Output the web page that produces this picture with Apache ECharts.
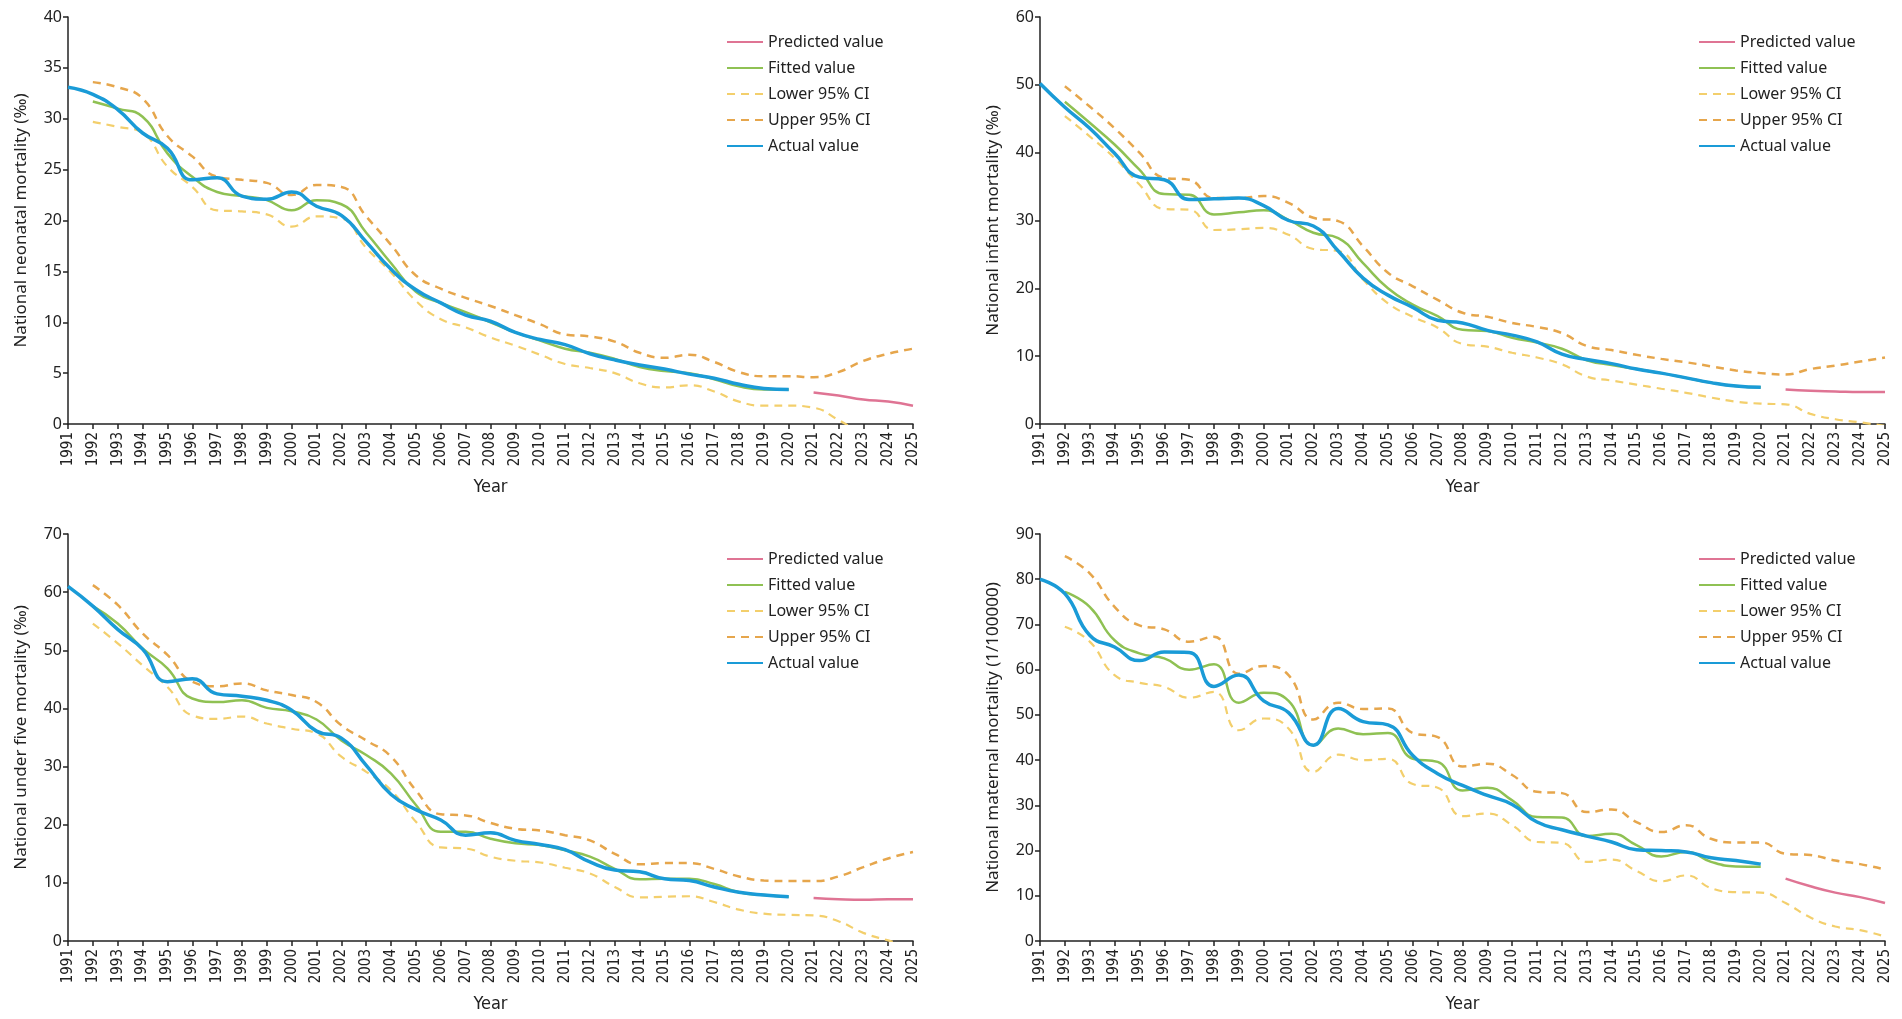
<!DOCTYPE html>
<html>
<head>
<meta charset="utf-8">
<title>National mortality trends</title>
<script src="https://cdn.jsdelivr.net/npm/echarts@6/dist/echarts.min.js"></script>
<style>
	html, body { margin: 0; padding: 0; background: #fff; }
	#main { width: 1902px; height: 1019px; }
</style>
</head>
<body>
<div id="main"></div>
<script>
// x axis categories
var years = ['1991','1992','1993','1994','1995','1996','1997','1998','1999','2000',
	'2001','2002','2003','2004','2005','2006','2007','2008','2009','2010',
	'2011','2012','2013','2014','2015','2016','2017','2018','2019','2020',
	'2021','2022','2023','2024','2025'];

var legendNames = ['Predicted value', 'Fitted value', 'Lower 95% CI', 'Upper 95% CI', 'Actual value'];

// neonatal (‰): actual 1991-2020, fitted 1992-2020, CI 1992-2025, predicted 2021-2025
var neonatalActual = [33.1, 32.4, 30.9, 28.6, 27.1, 24.0, 24.2, 22.4, 22.1, 22.8, 21.4, 20.5, 17.9, 15.2, 13.2, 11.9, 10.7, 10.1, 9.0, 8.3, 7.8, 6.9, 6.3, 5.8, 5.4, 4.9, 4.5, 3.9, 3.5, 3.4];
var neonatalFitted = [31.7, 31.0, 30.2, 26.6, 24.3, 22.8, 22.4, 22.0, 21.0, 22.0, 21.6, 18.8, 15.8, 13.0, 11.9, 11.0, 10.0, 9.0, 8.2, 7.4, 7.0, 6.4, 5.6, 5.2, 5.0, 4.4, 3.7, 3.4, 3.4];
var neonatalLower = [29.7, 29.2, 28.6, 25.3, 23.3, 21.0, 20.9, 20.6, 19.4, 20.4, 20.2, 17.3, 14.9, 12.1, 10.3, 9.5, 8.5, 7.7, 6.8, 5.9, 5.5, 5.0, 4.0, 3.6, 3.8, 3.2, 2.2, 1.8, 1.8, 1.6, 0.4, -1.0, -1.9, -2.6];
var neonatalUpper = [33.6, 33.1, 32.0, 28.3, 26.3, 24.3, 24.0, 23.7, 22.5, 23.5, 23.3, 20.4, 17.6, 14.6, 13.3, 12.4, 11.6, 10.7, 9.8, 8.8, 8.6, 8.1, 7.0, 6.5, 6.8, 6.1, 5.1, 4.7, 4.7, 4.6, 5.1, 6.2, 6.9, 7.4];
var neonatalPredicted = [3.1, 2.8, 2.4, 2.2, 1.8];

// infant (‰)
var infantActual = [50.2, 46.7, 43.6, 39.9, 36.4, 36.0, 33.1, 33.2, 33.3, 32.2, 30.0, 29.2, 25.5, 21.5, 19.0, 17.2, 15.3, 14.9, 13.8, 13.1, 12.1, 10.3, 9.5, 8.9, 8.1, 7.5, 6.8, 6.1, 5.6, 5.4];
var infantFitted = [47.5, 44.4, 41.2, 37.5, 33.9, 33.8, 30.9, 31.2, 31.5, 30.1, 28.2, 27.4, 23.7, 20.0, 17.6, 15.9, 13.9, 13.7, 12.7, 12.0, 11.1, 9.4, 8.7, 8.1, 7.5, 6.8, 6.1, 5.6, 5.4];
var infantLower = [45.4, 42.4, 39.2, 35.3, 31.7, 31.6, 28.6, 28.7, 28.9, 27.9, 25.8, 25.5, 21.3, 17.8, 15.8, 14.2, 11.8, 11.4, 10.5, 9.8, 8.8, 7.0, 6.4, 5.8, 5.2, 4.6, 3.9, 3.3, 3.0, 2.9, 1.5, 0.7, 0.25, -0.3];
var infantUpper = [49.8, 46.8, 43.6, 40.0, 36.3, 36.0, 33.3, 33.3, 33.6, 32.6, 30.4, 29.9, 26.2, 22.3, 20.3, 18.3, 16.4, 15.8, 14.9, 14.3, 13.4, 11.5, 10.9, 10.2, 9.6, 9.1, 8.5, 7.9, 7.5, 7.3, 8.1, 8.6, 9.2, 9.8];
var infantPredicted = [5.1, 4.9, 4.8, 4.7, 4.7];

// under five (‰)
var underFiveActual = [61.0, 57.6, 53.6, 50.2, 44.6, 45.1, 42.5, 42.1, 41.4, 39.7, 36.1, 34.9, 30.2, 25.2, 22.6, 20.8, 18.2, 18.6, 17.3, 16.6, 15.7, 13.6, 12.2, 11.9, 10.7, 10.4, 9.3, 8.4, 7.9, 7.6];
var underFiveFitted = [57.6, 54.6, 50.3, 46.9, 41.7, 41.1, 41.4, 40.1, 39.5, 38.1, 34.5, 32.0, 28.8, 23.4, 18.8, 18.8, 17.6, 16.8, 16.5, 15.6, 14.5, 12.4, 10.6, 10.7, 10.7, 9.8, 8.4, 7.9, 7.6];
var underFiveLower = [54.6, 51.2, 47.4, 43.7, 38.8, 38.2, 38.6, 37.4, 36.5, 35.7, 31.7, 29.1, 25.9, 20.5, 16.1, 15.9, 14.5, 13.8, 13.5, 12.6, 11.6, 9.3, 7.5, 7.6, 7.7, 6.7, 5.4, 4.7, 4.5, 4.4, 3.4, 1.4, 0.1, -1.2];
var underFiveUpper = [61.2, 57.8, 52.9, 49.2, 44.6, 43.8, 44.3, 43.1, 42.3, 41.1, 37.1, 34.5, 31.7, 25.9, 21.8, 21.6, 20.3, 19.3, 19.0, 18.2, 17.3, 15.0, 13.2, 13.4, 13.4, 12.4, 11.1, 10.4, 10.3, 10.3, 11.1, 12.7, 14.2, 15.3];
var underFivePredicted = [7.4, 7.2, 7.1, 7.2, 7.2];

// maternal (1/100000)
var maternalActual = [80.0, 76.8, 67.6, 65.0, 62.0, 63.9, 63.8, 56.3, 58.8, 53.1, 50.5, 43.3, 51.4, 48.5, 47.8, 41.0, 37.0, 34.4, 32.2, 30.2, 26.3, 24.6, 23.2, 21.9, 20.2, 20.0, 19.7, 18.4, 17.8, 17.0];
var maternalFitted = [77.2, 73.9, 66.5, 63.6, 62.5, 60.0, 61.2, 52.7, 54.9, 53.1, 43.3, 47.0, 45.7, 46.0, 40.3, 39.6, 33.3, 33.9, 31.1, 27.4, 27.3, 23.2, 23.7, 21.2, 18.7, 19.7, 17.5, 16.5, 16.4];
var maternalLower = [69.5, 66.2, 58.8, 57.1, 56.2, 53.8, 55.1, 46.6, 49.2, 47.0, 37.4, 41.2, 40.0, 40.3, 34.7, 33.9, 27.6, 28.2, 25.6, 21.9, 21.7, 17.5, 18.0, 15.5, 13.2, 14.5, 11.7, 10.8, 10.7, 8.4, 5.2, 3.2, 2.4, 1.0];
var maternalUpper = [85.1, 81.3, 73.9, 69.8, 68.9, 66.2, 67.3, 59.1, 60.8, 58.8, 49.0, 52.7, 51.3, 51.4, 46.0, 45.1, 38.6, 39.2, 36.7, 33.0, 32.7, 28.5, 29.1, 26.3, 24.1, 25.6, 22.6, 21.8, 21.8, 19.3, 19.0, 17.8, 17.0, 15.8];
var maternalPredicted = [13.8, 12.1, 10.7, 9.7, 8.4];

var panels = [
	{ name: 'National neonatal mortality (‰)', max: 40, step: 5, left: 68, top: 17,
		actual: neonatalActual, fitted: neonatalFitted, lower: neonatalLower, upper: neonatalUpper, predicted: neonatalPredicted },
	{ name: 'National infant mortality (‰)', max: 60, step: 10, left: 1040, top: 17,
		actual: infantActual, fitted: infantFitted, lower: infantLower, upper: infantUpper, predicted: infantPredicted },
	{ name: 'National under five mortality (‰)', max: 70, step: 10, left: 68, top: 534,
		actual: underFiveActual, fitted: underFiveFitted, lower: underFiveLower, upper: underFiveUpper, predicted: underFivePredicted },
	{ name: 'National maternal mortality (1/100000)', max: 90, step: 10, left: 1040, top: 534,
		actual: maternalActual, fitted: maternalFitted, lower: maternalLower, upper: maternalUpper, predicted: maternalPredicted }
];

// put a list that starts at startYear onto the full year axis
function pad(arr, startYear) {
	var out = [];
	var offset = years.indexOf(String(startYear));
	for (var i = 0; i < years.length; i++) {
		var v = arr[i - offset];
		out.push(v === undefined ? null : v);
	}
	return out;
}

var textColor = '#222';
var font = "'Noto Sans', 'Open Sans', sans-serif";
var narrow = "'Liberation Sans Narrow', 'DejaVu Sans Condensed', sans-serif";

var option = {
	backgroundColor: '#fff',
	textStyle: { fontFamily: font },
	grid: [], xAxis: [], yAxis: [], legend: [], series: []
};

panels.forEach(function (p, i) {
	option.grid.push({ left: p.left, top: p.top, width: 845, height: 407, outerBoundsMode: 'none' });
	option.xAxis.push({
		type: 'category',
		gridIndex: i,
		data: years,
		boundaryGap: false,
		name: 'Year',
		nameLocation: 'middle',
		nameGap: 54,
		nameTextStyle: { fontSize: 18, color: textColor, fontFamily: narrow },
		axisLine: { lineStyle: { color: textColor, width: 1.5 } },
		axisTick: { length: 5, interval: 0, lineStyle: { color: textColor, width: 1.5 } },
		axisLabel: { interval: 0, rotate: 90, margin: 8, fontSize: 15, color: textColor, fontFamily: narrow },
		splitLine: { show: false }
	});
	option.yAxis.push({
		type: 'value',
		gridIndex: i,
		min: 0,
		max: p.max,
		interval: p.step,
		name: p.name,
		nameLocation: 'middle',
		nameGap: 38,
		nameTextStyle: { fontSize: 17, color: textColor },
		axisLine: { show: true, lineStyle: { color: textColor, width: 1.5 } },
		axisTick: { show: true, length: 5, lineStyle: { color: textColor, width: 1.5 } },
		axisLabel: { fontSize: 16, color: textColor, margin: 6 },
		splitLine: { show: false }
	});
	option.legend.push({
		data: legendNames,
		orient: 'vertical',
		left: p.left + 653,
		top: p.top + 12,
		itemWidth: 36,
		itemHeight: 14,
		itemGap: 10,
		itemStyle: { opacity: 0 },   // hide the circle ECharts puts on line icons
		textStyle: { fontSize: 16, color: textColor }
	});

	var base = { type: 'line', xAxisIndex: i, yAxisIndex: i, smooth: 0.5, symbol: 'none', clip: true };
	option.series.push(
		Object.assign({}, base, { name: 'Predicted value', data: pad(p.predicted, 2021),
			lineStyle: { color: '#df7494', width: 2.5 }, itemStyle: { color: '#df7494' } }),
		Object.assign({}, base, { name: 'Fitted value', data: pad(p.fitted, 1992),
			lineStyle: { color: '#8fc153', width: 2.5 }, itemStyle: { color: '#8fc153' } }),
		Object.assign({}, base, { name: 'Lower 95% CI', data: pad(p.lower, 1992),
			lineStyle: { color: '#f3cf6c', width: 2.2, type: [8, 6] }, itemStyle: { color: '#f3cf6c' } }),
		Object.assign({}, base, { name: 'Upper 95% CI', data: pad(p.upper, 1992),
			lineStyle: { color: '#e6a64c', width: 2.5, type: [8, 6] }, itemStyle: { color: '#e6a64c' } }),
		Object.assign({}, base, { name: 'Actual value', data: pad(p.actual, 1991),
			lineStyle: { color: '#1a9bd7', width: 3.5 }, itemStyle: { color: '#1a9bd7' } })
	);
});

var myChart = echarts.init(document.getElementById('main'));
myChart.setOption(option);
</script>
</body>
</html>
